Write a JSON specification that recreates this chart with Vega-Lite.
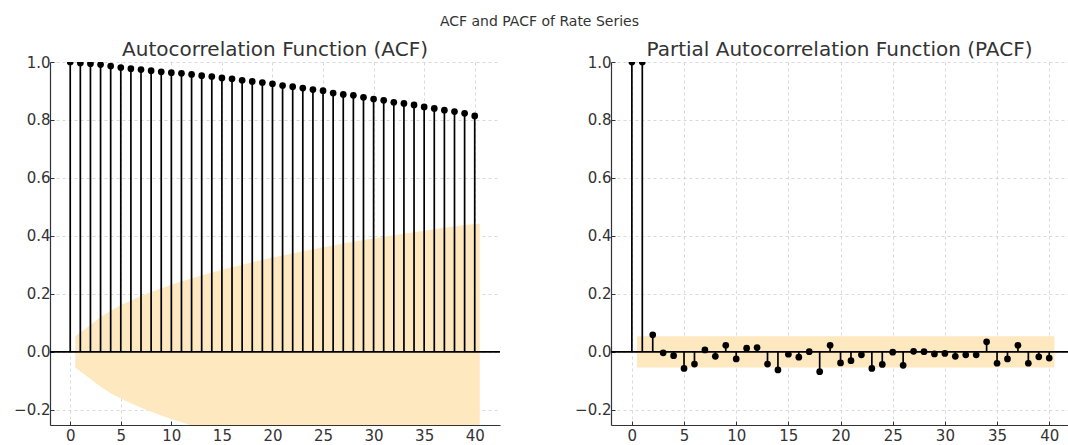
{
  "$schema": "https://vega.github.io/schema/vega-lite/v6.json",
  "padding": {"left": 10, "top": 15, "right": 0, "bottom": 0},
  "title": {"text": "ACF and PACF of Rate Series", "fontSize": 14, "fontWeight": "normal", "anchor": "middle", "color": "#333333", "font": "DejaVu Sans", "offset": 11},
  "datasets": {
    "acf": [
      {"lag": 0, "value": 1.0}, {"lag": 1, "value": 0.9966}, {"lag": 2, "value": 0.994}, {"lag": 3, "value": 0.991}, {"lag": 4, "value": 0.986},
      {"lag": 5, "value": 0.981}, {"lag": 6, "value": 0.977}, {"lag": 7, "value": 0.974}, {"lag": 8, "value": 0.970}, {"lag": 9, "value": 0.966},
      {"lag": 10, "value": 0.963}, {"lag": 11, "value": 0.961}, {"lag": 12, "value": 0.957}, {"lag": 13, "value": 0.953}, {"lag": 14, "value": 0.950},
      {"lag": 15, "value": 0.945}, {"lag": 16, "value": 0.942}, {"lag": 17, "value": 0.937}, {"lag": 18, "value": 0.933}, {"lag": 19, "value": 0.929},
      {"lag": 20, "value": 0.925}, {"lag": 21, "value": 0.919}, {"lag": 22, "value": 0.915}, {"lag": 23, "value": 0.910}, {"lag": 24, "value": 0.905},
      {"lag": 25, "value": 0.901}, {"lag": 26, "value": 0.893}, {"lag": 27, "value": 0.888}, {"lag": 28, "value": 0.885}, {"lag": 29, "value": 0.878},
      {"lag": 30, "value": 0.872}, {"lag": 31, "value": 0.868}, {"lag": 32, "value": 0.861}, {"lag": 33, "value": 0.857}, {"lag": 34, "value": 0.852},
      {"lag": 35, "value": 0.845}, {"lag": 36, "value": 0.840}, {"lag": 37, "value": 0.834}, {"lag": 38, "value": 0.829}, {"lag": 39, "value": 0.823},
      {"lag": 40, "value": 0.814}
    ],
    "acfband": [
      {"x": 0.5, "lo": -0.054, "hi": 0.054}, {"x": 2, "lo": -0.0933, "hi": 0.0933}, {"x": 3, "lo": -0.1203, "hi": 0.1203}, {"x": 4, "lo": -0.1421, "hi": 0.1421},
      {"x": 5, "lo": -0.1608, "hi": 0.1608}, {"x": 6, "lo": -0.1774, "hi": 0.1774}, {"x": 7, "lo": -0.1925, "hi": 0.1925}, {"x": 8, "lo": -0.2064, "hi": 0.2064},
      {"x": 9, "lo": -0.2192, "hi": 0.2192}, {"x": 10, "lo": -0.2313, "hi": 0.2313}, {"x": 11, "lo": -0.2427, "hi": 0.2427}, {"x": 12, "lo": -0.2536, "hi": 0.2536},
      {"x": 13, "lo": -0.2639, "hi": 0.2639}, {"x": 14, "lo": -0.2738, "hi": 0.2738}, {"x": 15, "lo": -0.2832, "hi": 0.2832}, {"x": 16, "lo": -0.2923, "hi": 0.2923},
      {"x": 17, "lo": -0.3010, "hi": 0.3010}, {"x": 18, "lo": -0.3094, "hi": 0.3094}, {"x": 19, "lo": -0.3175, "hi": 0.3175}, {"x": 20, "lo": -0.3253, "hi": 0.3253},
      {"x": 21, "lo": -0.3329, "hi": 0.3329}, {"x": 22, "lo": -0.3402, "hi": 0.3402}, {"x": 23, "lo": -0.3473, "hi": 0.3473}, {"x": 24, "lo": -0.3542, "hi": 0.3542},
      {"x": 25, "lo": -0.3609, "hi": 0.3609}, {"x": 26, "lo": -0.3674, "hi": 0.3674}, {"x": 27, "lo": -0.3736, "hi": 0.3736}, {"x": 28, "lo": -0.3797, "hi": 0.3797},
      {"x": 29, "lo": -0.3857, "hi": 0.3857}, {"x": 30, "lo": -0.3915, "hi": 0.3915}, {"x": 31, "lo": -0.3971, "hi": 0.3971}, {"x": 32, "lo": -0.4026, "hi": 0.4026},
      {"x": 33, "lo": -0.4079, "hi": 0.4079}, {"x": 34, "lo": -0.4132, "hi": 0.4132}, {"x": 35, "lo": -0.4183, "hi": 0.4183}, {"x": 36, "lo": -0.4232, "hi": 0.4232},
      {"x": 37, "lo": -0.4280, "hi": 0.4280}, {"x": 38, "lo": -0.4328, "hi": 0.4328}, {"x": 39, "lo": -0.4374, "hi": 0.4374}, {"x": 40.5, "lo": -0.4418, "hi": 0.4418}
    ],
    "pacf": [
      {"lag": 0, "value": 1.0}, {"lag": 1, "value": 1.0}, {"lag": 2, "value": 0.059}, {"lag": 3, "value": -0.003}, {"lag": 4, "value": -0.013},
      {"lag": 5, "value": -0.057}, {"lag": 6, "value": -0.042}, {"lag": 7, "value": 0.007}, {"lag": 8, "value": -0.015}, {"lag": 9, "value": 0.023},
      {"lag": 10, "value": -0.024}, {"lag": 11, "value": 0.013}, {"lag": 12, "value": 0.015}, {"lag": 13, "value": -0.042}, {"lag": 14, "value": -0.062},
      {"lag": 15, "value": -0.008}, {"lag": 16, "value": -0.018}, {"lag": 17, "value": 0.001}, {"lag": 18, "value": -0.068}, {"lag": 19, "value": 0.023},
      {"lag": 20, "value": -0.038}, {"lag": 21, "value": -0.030}, {"lag": 22, "value": -0.010}, {"lag": 23, "value": -0.057}, {"lag": 24, "value": -0.043},
      {"lag": 25, "value": -0.001}, {"lag": 26, "value": -0.046}, {"lag": 27, "value": 0.002}, {"lag": 28, "value": 0.001}, {"lag": 29, "value": -0.007},
      {"lag": 30, "value": -0.005}, {"lag": 31, "value": -0.015}, {"lag": 32, "value": -0.010}, {"lag": 33, "value": -0.010}, {"lag": 34, "value": 0.035},
      {"lag": 35, "value": -0.039}, {"lag": 36, "value": -0.024}, {"lag": 37, "value": 0.023}, {"lag": 38, "value": -0.039}, {"lag": 39, "value": -0.017},
      {"lag": 40, "value": -0.021}
    ],
    "pacfband": [
      {"x": 0.5, "lo": -0.054, "hi": 0.054}, {"x": 40.5, "lo": -0.054, "hi": 0.054}
    ]
  },
  "hconcat": [
    {
      "width": 450,
      "height": 363,
      "title": {"text": "Autocorrelation Function (ACF)", "fontSize": 20, "fontWeight": "normal", "color": "#333333", "offset": -5},
      "layer": [
        {
          "data": {"name": "acfband"},
          "mark": {"type": "area", "color": "#fee8c0", "opacity": 1, "clip": true},
          "encoding": {
            "x": {"field": "x", "type": "quantitative", "scale": {"domain": [-2, 42.5], "nice": false, "zero": false}, "axis": {"values": [0,5,10,15,20,25,30,35,40], "format": "d", "title": null}},
            "y": {"field": "lo", "type": "quantitative", "scale": {"domain": [-0.252, 1.0], "nice": false, "zero": false}, "axis": {"values": [-0.2,0,0.2,0.4,0.6,0.8,1.0], "format": ".1f", "title": null}},
            "y2": {"field": "hi"}
          }
        },
        {
          "data": {"name": "acf"},
          "mark": {"type": "rule", "color": "#000000", "strokeWidth": 1.7, "clip": true},
          "encoding": {
            "x": {"field": "lag", "type": "quantitative"},
            "y": {"field": "value", "type": "quantitative"},
            "y2": {"datum": 0}
          }
        },
        {
          "data": {"name": "acf"},
          "mark": {"type": "point", "shape": "circle", "filled": true, "color": "#000000", "opacity": 1, "size": 45, "clip": true},
          "encoding": {
            "x": {"field": "lag", "type": "quantitative"},
            "y": {"field": "value", "type": "quantitative"}
          }
        },
        {
          "data": {"values": [{}]},
          "mark": {"type": "rule", "color": "#000000", "strokeWidth": 1.7},
          "encoding": {"y": {"datum": 0}}
        }
      ]
    },
    {
      "width": 457,
      "height": 363,
      "title": {"text": "Partial Autocorrelation Function (PACF)", "fontSize": 20, "fontWeight": "normal", "color": "#333333", "offset": -5},
      "layer": [
        {
          "data": {"name": "pacfband"},
          "mark": {"type": "area", "color": "#fee8c0", "opacity": 1, "clip": true},
          "encoding": {
            "x": {"field": "x", "type": "quantitative", "scale": {"domain": [-2, 41.8], "nice": false, "zero": false}, "axis": {"values": [0,5,10,15,20,25,30,35,40], "format": "d", "title": null}},
            "y": {"field": "lo", "type": "quantitative", "scale": {"domain": [-0.252, 1.0], "nice": false, "zero": false}, "axis": {"values": [-0.2,0,0.2,0.4,0.6,0.8,1.0], "format": ".1f", "title": null}},
            "y2": {"field": "hi"}
          }
        },
        {
          "data": {"name": "pacf"},
          "mark": {"type": "rule", "color": "#000000", "strokeWidth": 1.7, "clip": true},
          "encoding": {
            "x": {"field": "lag", "type": "quantitative"},
            "y": {"field": "value", "type": "quantitative"},
            "y2": {"datum": 0}
          }
        },
        {
          "data": {"name": "pacf"},
          "mark": {"type": "point", "shape": "circle", "filled": true, "color": "#000000", "opacity": 1, "size": 45, "clip": true},
          "encoding": {
            "x": {"field": "lag", "type": "quantitative"},
            "y": {"field": "value", "type": "quantitative"}
          }
        },
        {
          "data": {"values": [{}]},
          "mark": {"type": "rule", "color": "#000000", "strokeWidth": 1.7},
          "encoding": {"y": {"datum": 0}}
        }
      ]
    }
  ],
  "spacing": 70,
  "config": {
    "font": "DejaVu Sans",
    "view": {"stroke": null},
    "axis": {
      "grid": true,
      "gridDash": [3, 3],
      "gridColor": "#cfcfcf",
      "gridWidth": 0.8,
      "domainColor": "#333333",
      "domainWidth": 1.2,
      "tickColor": "#333333",
      "tickSize": -4,
      "labelColor": "#333333",
      "labelFontSize": 15,
      "labelFont": "DejaVu Sans",
      "labelPadding": 4
    },
    "axisY": {"minExtent": 40, "maxExtent": 40},
    "axisX": {"labelPadding": 7}
  }
}
